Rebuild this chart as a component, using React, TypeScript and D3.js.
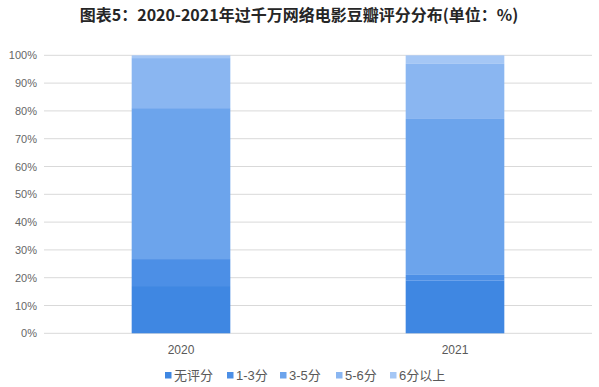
import React from "react";
import * as d3 from "d3";

const years = ["2020", "2021"];
const seriesNames = ["无评分", "1-3分", "3-5分", "5-6分", "6分以上"];
const noScore = [17.0, 18.9];
const score1to3 = [9.7, 2.1];
const score3to5 = [54.3, 56.1];
const score5to6 = [18.0, 19.8];
const score6plus = [1.0, 3.1];
const yTicks = [0, 10, 20, 30, 40, 50, 60, 70, 80, 90, 100];
const colors = ["#3F87E2", "#4C8FE6", "#6CA4EC", "#8AB6F1", "#A5C7F5"];
const title = "图表5：2020-2021年过千万网络电影豆瓣评分分布(单位：%)";

const W = 599, H = 387;
const M = { left: 44, right: 7, top: 55.3, bottom: 53.7 };

export default function App() {
  const values = [noScore, score1to3, score3to5, score5to6, score6plus];
  const rows = years.map((y, i) => {
    const r: any = { year: y };
    seriesNames.forEach((s, k) => (r[s] = values[k][i]));
    return r;
  });
  const stacked = d3.stack<any>().keys(seriesNames)(rows);
  const x = d3.scaleBand().domain(years).range([M.left, W - M.right]).paddingInner(0.64).paddingOuter(0.32);
  const y = d3.scaleLinear().domain([0, 100]).range([H - M.bottom, M.top]);
  const legendX = [165, 227, 280, 336, 390];
  const font = "'Liberation Sans', Arial, 'Noto Sans CJK SC', sans-serif";
  return (
    <svg width={W} height={H} style={{ position: "absolute", left: 0, top: 0, background: "#fff" }}>
      <text x={299} y={21} textAnchor="middle" fontSize={16} fontWeight="bold" fill="#262626"
        fontFamily="'Noto Sans CJK SC', sans-serif">{title}</text>
      {yTicks.map((t) => (
        <g key={t}>
          <line x1={M.left} x2={W - M.right} y1={y(t)} y2={y(t)} stroke="#D9D9D9" strokeWidth={1} />
          <text x={37} y={y(t) + 4} textAnchor="end" fontSize={11} fill="#666666" fontFamily={font}>{t}%</text>
        </g>
      ))}
      {stacked.map((s, k) => (
        <g key={s.key} fill={colors[k]}>
          {s.map((d, i) => (
            <rect key={i} x={x(years[i])} width={x.bandwidth()} y={y(d[1])} height={y(d[0]) - y(d[1])} />
          ))}
        </g>
      ))}
      {years.map((yr) => (
        <text key={yr} x={(x(yr) as number) + x.bandwidth() / 2} y={354} textAnchor="middle" fontSize={12}
          fill="#595959" fontFamily={font}>{yr}</text>
      ))}
      {seriesNames.map((s, k) => (
        <g key={s}>
          <rect x={legendX[k]} y={372} width={6.5} height={6.5} fill={colors[k]} />
          <text x={legendX[k] + 9} y={380} fontSize={13} fill="#595959" fontFamily={font}>{s}</text>
        </g>
      ))}
    </svg>
  );
}
